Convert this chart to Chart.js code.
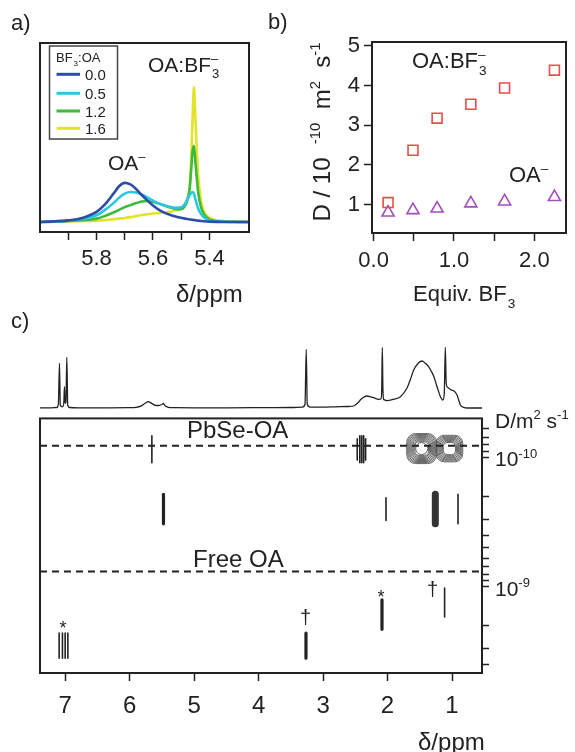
<!DOCTYPE html>
<html>
<head>
<meta charset="utf-8">
<script src="https://cdn.jsdelivr.net/npm/chart.js@4.4.0/dist/chart.umd.min.js"></script>
<style>
  body { margin: 0; background: #fff; }
  #fig { position: relative; width: 575px; height: 752px; overflow: hidden; }
  #fig canvas { position: absolute; }
</style>
</head>
<body>
<div id="fig">
  <canvas id="ca" width="262" height="310" style="left:0;top:0"></canvas>
  <canvas id="cb" width="313" height="310" style="left:262px;top:0"></canvas>
  <canvas id="cs" width="575" height="115" style="left:0;top:300px"></canvas>
  <canvas id="cd" width="575" height="352" style="left:0;top:400px"></canvas>
  <canvas id="txt" width="575" height="752" style="left:0;top:0;pointer-events:none"></canvas>
</div>
<script>
// ---- panel a: vinyl region of the 1H spectra ----
const ratioLabels = ['0.0', '0.5', '1.2', '1.6'];
const ppmA = [6.00, 5.95, 5.90, 5.85, 5.80, 5.77, 5.74, 5.72, 5.70, 5.68, 5.66, 5.64, 5.62, 5.60, 5.58, 5.56, 5.54,
  5.52, 5.50, 5.49, 5.48, 5.47, 5.465, 5.46, 5.455, 5.45, 5.44, 5.43, 5.42, 5.40, 5.35, 5.30, 5.26];
const int00 = [0, 0.005, 0.012, 0.03, 0.075, 0.13, 0.21, 0.265, 0.29, 0.278, 0.245, 0.20, 0.16, 0.122, 0.092, 0.07, 0.054,
  0.041, 0.031, 0.027, 0.023, 0.019, 0.018, 0.016, 0.015, 0.013, 0.01, 0.008, 0.006, 0.003, 0, 0, 0];
const int05 = [0, 0.004, 0.01, 0.022, 0.05, 0.09, 0.14, 0.18, 0.21, 0.222, 0.218, 0.205, 0.182, 0.158, 0.137, 0.122, 0.112,
  0.106, 0.11, 0.125, 0.16, 0.20, 0.215, 0.222, 0.21, 0.17, 0.10, 0.06, 0.035, 0.012, 0.002, 0, 0];
const int12 = [0, 0.003, 0.007, 0.014, 0.025, 0.045, 0.07, 0.09, 0.11, 0.125, 0.14, 0.152, 0.156, 0.148, 0.137, 0.123, 0.108,
  0.097, 0.095, 0.11, 0.15, 0.25, 0.38, 0.52, 0.565, 0.45, 0.22, 0.11, 0.06, 0.02, 0.004, 0.001, 0];
const int16 = [0, 0.002, 0.004, 0.007, 0.01, 0.014, 0.02, 0.025, 0.03, 0.036, 0.044, 0.052, 0.058, 0.063, 0.066, 0.07, 0.076,
  0.085, 0.10, 0.12, 0.16, 0.26, 0.45, 0.75, 1.0, 0.78, 0.35, 0.16, 0.08, 0.03, 0.008, 0.002, 0];
const ticksA = [5.9, 5.8, 5.7, 5.6, 5.5, 5.4];
const labeledA = [5.8, 5.6, 5.4];

// ---- panel b: diffusion coefficients vs equivalents of BF3 ----
const equivBF3 = [0.18, 0.49, 0.79, 1.21, 1.63, 2.25];
const dComplex = [1.05, 2.37, 3.18, 3.53, 3.94, 4.39];   // OA:BF3-
const dOleate = [0.80, 0.86, 0.90, 1.03, 1.08, 1.19];    // OA-
const ticksBx = [0, 0.5, 1, 1.5, 2];
const ticksBy = [1, 2, 3, 4, 5];

// ---- panel c: 1D projection and DOSY ----
const specPpm = [7.39, 7.25, 7.13, 7.105, 7.088, 7.075, 7.04, 7.02, 7.011, 7.0, 6.988, 6.974, 6.96, 6.93, 6.8, 6.4, 6.0,
  5.9, 5.82, 5.76, 5.71, 5.66, 5.6, 5.55, 5.5, 5.475, 5.45, 5.4, 5.3, 5.0, 4.5, 4.0, 3.5, 3.32, 3.28, 3.261, 3.245, 3.2,
  3.0, 2.8, 2.6, 2.527, 2.45, 2.423, 2.37, 2.319, 2.26, 2.216, 2.138, 2.1, 2.09, 2.081, 2.072, 2.06, 2.04, 2.012, 1.906,
  1.80, 1.70, 1.65, 1.596, 1.518, 1.465, 1.414, 1.363, 1.326, 1.285, 1.232, 1.18, 1.14, 1.12, 1.104, 1.09, 1.07, 1.05,
  1.0, 0.975, 0.922, 0.89, 0.87, 0.82, 0.767, 0.6, 0.535];
const specInt = [0.5, 0.5, 0.8, 4, 45, 3, 1.5, 6, 21.6, 5, 6, 51, 3, 0.8, 0.5, 0.5, 0.6,
  1.0, 2.5, 5, 6.6, 5, 3, 2.8, 3.8, 4.8, 2.5, 1, 0.6, 0.5, 0.5, 0.6, 0.8, 1.2, 4, 59, 4, 1.2,
  1.2, 1.5, 1.8, 2.3, 6, 8.3, 11, 12.3, 11.5, 10.6, 9, 9.5, 20, 61, 20, 9, 8.3, 7.6, 9,
  11.6, 20, 28, 38, 45.6, 47.3, 45, 41.6, 37.6, 32.3, 21.6, 11.6, 8.3, 15, 61, 25, 21, 20,
  18, 17.6, 13.3, 7, 3.3, 1, 0.3, 0.3, 0.3];

const ppmRangeC = [0.535, 7.39];
const dRange = [5e-11, 4.63e-9];
const ticksCx = [7, 6, 5, 4, 3, 2, 1];
const ticksD = [6e-11, 7e-11, 8e-11, 9e-11, 1e-10, 2e-10, 3e-10, 4e-10, 5e-10, 6e-10, 7e-10, 8e-10, 9e-10,
  1e-9, 2e-9, 3e-9, 4e-9];
const decadeD = [1e-10, 1e-9];
const decadeExp = ['-10', '-9'];
const levelD = [8.15e-11, 7.63e-10];   // PbSe-OA, free OA

// thin streaks
const streakPpm = [5.655, 2.47, 2.43, 2.40, 2.37, 2.34, 2.024, 0.907, 1.115, 7.093, 7.042, 7.000, 6.958];
const streakTop = [6.8e-11, 7.2e-11, 6.8e-11, 6.8e-11, 6.8e-11, 7.2e-11, 2.05e-10, 1.93e-10, 1.02e-9, 2.28e-9, 2.28e-9, 2.28e-9, 2.28e-9];
const streakBot = [1.10e-10, 1.05e-10, 1.10e-10, 1.10e-10, 1.10e-10, 1.05e-10, 3.07e-10, 3.26e-10, 1.71e-9, 3.56e-9, 3.56e-9, 3.56e-9, 3.56e-9];
// narrow ovals
const ovalPpm = [5.475, 3.265, 2.086];
const ovalTop = [1.93e-10, 2.28e-9, 1.26e-9];
const ovalBot = [3.26e-10, 3.56e-9, 2.13e-9];
// wide oval at 1.26 ppm
const wideOvalPpm = [1.259];
const wideOvalTop = [1.93e-10];
const wideOvalBot = [3.26e-10];
// contour blobs of bound oleate
const blobPpm = [1.47, 1.04];
const blobD = [8.55e-11, 8.55e-11];

const FONT = '"Liberation Sans", Arial, sans-serif';
const INK = '#222';
Chart.defaults.font.family = FONT;
Chart.defaults.color = INK;

const colorsA = ['#2c4ea6', '#2cc6e0', '#3dbb3d', '#e3e32a'];

// rich text helper: strings are normal text, objects carry sup/sub
function rich(ctx, x, y, size, parts, measureOnly) {
  const small = size * 0.62;
  let cx = x;
  ctx.textBaseline = 'alphabetic';
  ctx.textAlign = 'left';
  for (const p of parts) {
    if (typeof p === 'string') {
      ctx.font = size + 'px ' + FONT;
      if (!measureOnly) ctx.fillText(p, cx, y);
      cx += ctx.measureText(p).width;
    } else {
      ctx.font = small + 'px ' + FONT;
      let w = 0;
      if (p.sup) {
        if (!measureOnly) ctx.fillText(p.sup, cx, y - size * 0.42);
        w = ctx.measureText(p.sup).width;
      }
      if (p.sub) {
        if (!measureOnly) ctx.fillText(p.sub, cx + 1, y + size * 0.3);
        w = Math.max(w, ctx.measureText(p.sub).width + 1);
      }
      cx += w;
    }
  }
  return cx - x;
}

const frame = {
  id: 'frame',
  afterDatasetsDraw(chart) {
    const { ctx, chartArea: a } = chart;
    ctx.save();
    ctx.strokeStyle = INK;
    ctx.lineWidth = 2;
    ctx.strokeRect(a.left, a.top, a.width, a.height);
    ctx.restore();
  }
};

const tickGrid = { drawOnChartArea: false, tickLength: 8, tickColor: INK, tickWidth: 1.5 };
const fixTicks = list => scale => { scale.ticks = list.map(v => ({ value: v })); };

// ---- chart a ----
const spectraA = [int00, int05, int12, int16];
new Chart(document.getElementById('ca'), {
  type: 'line',
  data: {
    datasets: spectraA.map((arr, i) => ({
      label: ratioLabels[i],
      data: ppmA.map((p, j) => ({ x: p, y: arr[j] })),
      borderColor: colorsA[i],
      borderWidth: 2.6,
      pointRadius: 0,
      cubicInterpolationMode: 'monotone'
    }))
  },
  options: {
    responsive: false,
    animation: false,
    layout: { padding: { left: 40, top: 43, right: 13, bottom: 0 } },
    plugins: { legend: { display: false }, tooltip: { enabled: false } },
    scales: {
      x: {
        type: 'linear', reverse: true, min: 5.26, max: 6.0,
        afterBuildTicks: fixTicks(ticksA),
        afterFit: s => { s.height = 78; },
        grid: tickGrid,
        border: { display: false },
        ticks: {
          font: { size: 22 }, padding: 6, maxRotation: 0, autoSkip: false,
          callback: v => labeledA.some(t => Math.abs(t - v) < 1e-6) ? v.toFixed(1) : ''
        }
      },
      y: { display: false, min: -0.074, max: 1.326 }
    }
  },
  plugins: [frame]
});

// ---- chart b ----
new Chart(document.getElementById('cb'), {
  type: 'scatter',
  data: {
    datasets: [
      { label: 'OA:BF3-', data: equivBF3.map((x, i) => ({ x, y: dComplex[i] })), pointStyle: 'rect',
        pointRadius: 7, pointBorderWidth: 1.6, pointBorderColor: '#ef4b4b', pointBackgroundColor: 'rgba(0,0,0,0)' },
      { label: 'OA-', data: equivBF3.map((x, i) => ({ x, y: dOleate[i] })), pointStyle: 'triangle',
        pointRadius: 7, pointBorderWidth: 1.6, pointBorderColor: '#a34fbe', pointBackgroundColor: 'rgba(0,0,0,0)' }
    ]
  },
  options: {
    responsive: false,
    animation: false,
    layout: { padding: { left: 0, top: 42, right: 9, bottom: 0 } },
    plugins: { legend: { display: false }, tooltip: { enabled: false } },
    scales: {
      x: {
        type: 'linear', min: -0.02, max: 2.394,
        afterBuildTicks: fixTicks(ticksBx),
        afterFit: s => { s.height = 77; },
        grid: tickGrid,
        border: { display: false },
        ticks: { font: { size: 22 }, padding: 7, maxRotation: 0, autoSkip: false,
          callback: v => Number.isInteger(v) ? v.toFixed(1) : '' }
      },
      y: {
        type: 'linear', min: 0.284, max: 5.10,
        afterBuildTicks: fixTicks(ticksBy),
        afterFit: s => { s.width = 110; },
        grid: tickGrid,
        border: { display: false },
        ticks: { font: { size: 22 }, padding: 4, autoSkip: false }
      }
    }
  },
  plugins: [frame]
});

// ---- chart c, 1D projection ----
new Chart(document.getElementById('cs'), {
  type: 'line',
  data: {
    datasets: [{
      data: specPpm.map((p, i) => ({ x: p, y: specInt[i] })),
      borderColor: '#222', borderWidth: 1.3, pointRadius: 0, cubicInterpolationMode: 'monotone'
    }]
  },
  options: {
    responsive: false,
    animation: false,
    layout: { padding: { left: 40, top: 30, right: 93, bottom: 3 } },
    plugins: { legend: { display: false }, tooltip: { enabled: false } },
    scales: {
      x: { type: 'linear', reverse: true, min: ppmRangeC[0], max: ppmRangeC[1], display: false },
      y: { min: -3.7, max: 78.3, display: false }
    }
  }
});

// ---- chart c, DOSY map ----
const segs = (ppm, top, bot) => ppm.flatMap((p, i) => [{ x: p, y: top[i] }, { x: p, y: bot[i] }, { x: p, y: null }]);
const contourRadii = [[17.5, 16.3, 15.1, 13.9, 12.7, 11.5, 10.3, 9.1, 7.9], [15.5, 14.3, 13.1, 11.9, 10.7, 9.5, 8.3, 7.1]];

const dosySets = [];
levelD.forEach(d => dosySets.push({
  data: [{ x: ppmRangeC[1], y: d }, { x: ppmRangeC[0], y: d }],
  showLine: true, borderColor: INK, borderWidth: 2, borderDash: [7, 5], pointRadius: 0
}));
dosySets.push({ data: segs(streakPpm, streakTop, streakBot), showLine: true, borderColor: INK,
  borderWidth: 1.6, borderCapStyle: 'round', pointRadius: 0 });
dosySets.push({ data: segs(ovalPpm, ovalTop, ovalBot), showLine: true, borderColor: INK,
  borderWidth: 3.2, borderCapStyle: 'round', pointRadius: 0 });
dosySets.push({ data: segs(wideOvalPpm, wideOvalTop, wideOvalBot), showLine: true, borderColor: '#333',
  borderWidth: 7, borderCapStyle: 'round', pointRadius: 0 });
dosySets.push({ data: segs(wideOvalPpm, wideOvalTop, wideOvalBot), showLine: true, borderColor: '#aaa',
  borderWidth: 2.5, borderCapStyle: 'round', pointRadius: 0 });
blobPpm.forEach((p, i) => dosySets.push({
  data: contourRadii[i].map(() => ({ x: p, y: blobD[i] })),
  pointStyle: 'rectRounded', pointRadius: contourRadii[i], pointBorderColor: '#555',
  pointBorderWidth: 0.9, pointBackgroundColor: 'rgba(0,0,0,0)'
}));
dosySets.push({
  data: [{ x: blobPpm[0], y: blobD[0] }], pointStyle: 'circle', pointRadius: 6,
  pointBorderColor: '#666', pointBorderWidth: 1, pointBackgroundColor: '#fff'
});

const decadeLabels = {
  id: 'decadeLabels',
  afterDraw(chart) {
    const { ctx, chartArea: a, scales } = chart;
    ctx.save();
    ctx.fillStyle = INK;
    decadeD.forEach((d, i) => {
      rich(ctx, a.right + 13, scales.y.getPixelForValue(d) + 9, 21, ['10', { sup: decadeExp[i] }]);
    });
    ctx.restore();
  }
};

new Chart(document.getElementById('cd'), {
  type: 'scatter',
  data: { datasets: dosySets },
  options: {
    responsive: false,
    animation: false,
    layout: { padding: { left: 40, top: 13, right: 0, bottom: 0 } },
    plugins: { legend: { display: false }, tooltip: { enabled: false } },
    scales: {
      x: {
        type: 'linear', reverse: true, min: ppmRangeC[0], max: ppmRangeC[1],
        afterBuildTicks: fixTicks(ticksCx),
        afterFit: s => { s.height = 79; },
        grid: tickGrid,
        border: { display: false },
        ticks: { font: { size: 24 }, padding: 11, maxRotation: 0, autoSkip: false }
      },
      y: {
        type: 'logarithmic', position: 'right', reverse: true, min: dRange[0], max: dRange[1],
        afterBuildTicks: fixTicks(ticksD),
        afterFit: s => { s.width = 93; },
        grid: { drawOnChartArea: false, tickLength: 7, tickColor: INK, tickWidth: 1.5 },
        border: { display: false },
        ticks: { display: false, autoSkip: false }
      }
    }
  },
  plugins: [frame, decadeLabels]
});

// ---- text overlay ----
const tc = document.getElementById('txt').getContext('2d');
tc.fillStyle = INK;
const texts = [
  { x: 11, y: 30, s: 22, parts: ['a)'] },
  { x: 268, y: 29, s: 22, parts: ['b)'] },
  { x: 11, y: 328, s: 22, parts: ['c)'] },
  { x: 148, y: 72, s: 21, parts: ['OA:BF', { sup: '–', sub: '3' }] },
  { x: 108, y: 170, s: 21, parts: ['OA', { sup: '–' }] },
  { x: 176, y: 302, s: 24, parts: ['δ/ppm'] },
  { x: 412, y: 68, s: 22, parts: ['OA:BF', { sup: '–', sub: '3' }] },
  { x: 509, y: 182, s: 22, parts: ['OA', { sup: '–' }] },
  { x: 413, y: 301, s: 22, parts: ['Equiv. BF', { sub: '3' }] },
  { x: 187, y: 438, s: 24, parts: ['PbSe-OA'] },
  { x: 193, y: 567, s: 24, parts: ['Free OA'] },
  { x: 495, y: 428, s: 21, parts: ['D/m', { sup: '2' }, ' s', { sup: '-1' }] },
  { x: 418, y: 750, s: 24, parts: ['δ/ppm'] },
  { x: 59.5, y: 634, s: 18, parts: ['*'] },
  { x: 377.5, y: 603, s: 18, parts: ['*'] },
  { x: 300, y: 624, s: 20, parts: ['†'] },
  { x: 427, y: 596, s: 20, parts: ['†'] }
];
texts.forEach(t => rich(tc, t.x, t.y, t.s, t.parts));

// rotated y title of panel b
const yTitle = ['D / 10  ', { sup: '-10' }, '  m', { sup: '2' }, '  s', { sup: '-1' }];
const yw = rich(tc, 0, 0, 24, yTitle, true);
tc.save();
tc.translate(330, 132);
tc.rotate(-Math.PI / 2);
rich(tc, -yw / 2, 0, 24, yTitle);
tc.restore();

// legend of panel a
tc.save();
tc.strokeStyle = '#444';
tc.lineWidth = 1.5;
tc.strokeRect(49.5, 46, 68, 93);
rich(tc, 56, 62, 13, ['BF', { sub: '3' }, ':OA']);
const legendY = [74.3, 93.3, 111, 128.3];
ratioLabels.forEach((lab, i) => {
  tc.strokeStyle = colorsA[i];
  tc.lineWidth = 3;
  tc.beginPath();
  tc.moveTo(56.5, legendY[i]);
  tc.lineTo(80, legendY[i]);
  tc.stroke();
  rich(tc, 85, legendY[i] + 5.5, 15, [lab]);
});
tc.restore();
</script>
</body>
</html>
